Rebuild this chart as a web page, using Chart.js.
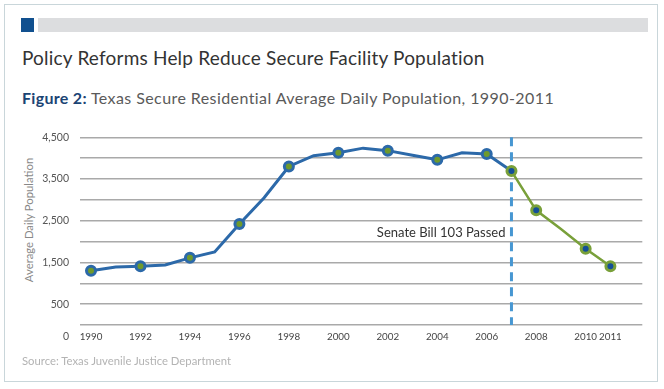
<!DOCTYPE html>
<html>
<head>
<meta charset="utf-8">
<script src="https://cdn.jsdelivr.net/npm/chart.js@4/dist/chart.umd.min.js"></script>
<style>
  html, body { margin: 0; padding: 0; background: #ffffff; }
  body { width: 664px; height: 389px; position: relative; overflow: hidden; font-family: Lato, "Noto Sans", sans-serif; }
  .card { position: absolute; left: 4px; top: 4px; width: 654px; height: 378px; border: 1.5px solid #c9d6da; box-sizing: border-box; }
  .sq { position: absolute; left: 21px; top: 18px; width: 13px; height: 14px; background: #11508f; }
  .bar { position: absolute; left: 38px; top: 18px; width: 610px; height: 14px; background: #dcdddf; }
  .title { position: absolute; left: 22px; top: 46.5px; font-size: 19px; letter-spacing: 0.2px; line-height: 1.2; color: #333333; white-space: nowrap; }
  .sub { position: absolute; left: 22px; top: 87.5px; font-size: 16px; letter-spacing: 0.42px; line-height: 1.2; color: #5a5a5a; white-space: nowrap; }
  .sub b { color: #1b4474; font-weight: 700; letter-spacing: 0.3px; }
  .ytitle { position: absolute; left: 28px; top: 220px; transform: translate(-50%, -50%) rotate(-90deg); font-size: 11.3px; color: #888888; white-space: nowrap; }
  .source { position: absolute; left: 22px; top: 353.5px; font-size: 11.3px; line-height: 1.2; color: #b3b3b3; white-space: nowrap; }
  #wrap { position: absolute; left: 0; top: 120px; width: 664px; height: 235px; }
</style>
</head>
<body>
<div class="card"></div>
<div class="sq"></div>
<div class="bar"></div>
<div class="title">Policy Reforms Help Reduce Secure Facility Population</div>
<div class="sub"><b>Figure 2:</b> Texas Secure Residential Average Daily Population, 1990-2011</div>
<div class="ytitle">Average Daily Population</div>
<div id="wrap"><canvas id="c" width="664" height="235"></canvas></div>
<div class="source">Source: Texas Juvenile Justice Department</div>
<script>
const years = [1990,1991,1992,1993,1994,1995,1996,1997,1998,1999,2000,2001,2002,2003,2004,2005,2006,2007,2008,2009,2010,2011];
const population = [1300,1390,1410,1440,1610,1750,2420,3050,3800,4060,4130,4240,4180,4070,3960,4130,4100,3690,2750,2300,1830,1410];
const markedYears = [1990,1992,1994,1996,1998,2000,2002,2004,2006,2007,2008,2010,2011];
const xTickYears = [1990,1992,1994,1996,1998,2000,2002,2004,2006,2008,2010,2011];
const yLabelValues = [500,1500,2500,3500,4500];
const lawYear = 2007;
const lawLabel = "Senate Bill 103 Passed";
const lawLabelValue = 2200;

const blueColor = '#2c69a9';
const greenColor = '#79a03a';
const darkBlueFill = '#134f98';
const greenFill = '#6f9a2c';

const before = years.map((y,i)=>({x:y,y:population[i]})).filter(p=>p.x<=lawYear);
const after = years.map((y,i)=>({x:y,y:population[i]})).filter(p=>p.x>=lawYear);

const overlay = {
  id: 'overlay',
  beforeDatasetsDraw(chart) {
    const {ctx, chartArea, scales} = chart;
    const x = scales.x.getPixelForValue(lawYear);
    ctx.save();
    ctx.strokeStyle = '#4797d2';
    ctx.lineWidth = 3;
    ctx.setLineDash([9, 6]);
    ctx.beginPath();
    ctx.moveTo(x, chartArea.top);
    ctx.lineTo(x, chartArea.bottom);
    ctx.stroke();
    ctx.setLineDash([]);
    ctx.fillStyle = '#333333';
    ctx.font = '13px Lato, "Noto Sans", sans-serif';
    ctx.textAlign = 'right';
    ctx.textBaseline = 'middle';
    ctx.fillText(lawLabel, x - 6, scales.y.getPixelForValue(lawLabelValue));
    ctx.restore();
  },
  afterDraw(chart) {
    const {ctx, chartArea} = chart;
    ctx.save();
    ctx.fillStyle = '#555555';
    ctx.font = '10.5px Lato, "Noto Sans", sans-serif';
    ctx.textAlign = 'right';
    ctx.textBaseline = 'middle';
    ctx.fillText('0', chartArea.left - 11, chartArea.bottom + 11.5);
    ctx.restore();
  }
};

new Chart(document.getElementById('c'), {
  type: 'line',
  data: {
    datasets: [
      {
        data: after,
        borderColor: greenColor,
        borderWidth: 2.5,
        pointBorderColor: greenColor,
        pointBackgroundColor: darkBlueFill,
        pointBorderWidth: 3,
        pointRadius: ctx => markedYears.includes(ctx.raw.x) ? 4.5 : 0,
        tension: 0
      },
      {
        data: before,
        borderColor: blueColor,
        borderWidth: 3,
        pointBorderColor: blueColor,
        pointBackgroundColor: greenFill,
        pointBorderWidth: 3,
        pointRadius: ctx => (markedYears.includes(ctx.raw.x) && ctx.raw.x !== lawYear) ? 4.5 : 0,
        tension: 0
      }
    ]
  },
  options: {
    responsive: false,
    animation: false,
    events: [],
    layout: { padding: { left: 16, right: 21.7, top: 16.7, bottom: 0 } },
    plugins: { legend: { display: false }, tooltip: { enabled: false } },
    scales: {
      x: {
        type: 'linear',
        min: 1989.555,
        max: 2012.29,
        grid: { display: false, drawTicks: false },
        border: { display: false },
        afterBuildTicks: s => { s.ticks = xTickYears.map(v => ({value: v})); },
        afterFit: s => { s.height = 30; },
        ticks: {
          autoSkip: false,
          maxRotation: 0,
          padding: 6,
          color: '#444444',
          font: {family: 'Lato, "Noto Sans", sans-serif', size: 9.8},
          callback: v => String(v)
        }
      },
      y: {
        min: 0,
        max: 4500,
        afterFit: s => { s.width = 64; },
        grid: { color: '#a9a9a9', lineWidth: 1.5, drawTicks: false },
        border: { display: false },
        ticks: {
          stepSize: 500,
          padding: 11,
          color: '#555555',
          font: {family: 'Lato, "Noto Sans", sans-serif', size: 10.5},
          callback: v => yLabelValues.includes(v) ? v.toLocaleString('en-US') : ''
        }
      }
    }
  },
  plugins: [overlay]
});
</script>
</body>
</html>
